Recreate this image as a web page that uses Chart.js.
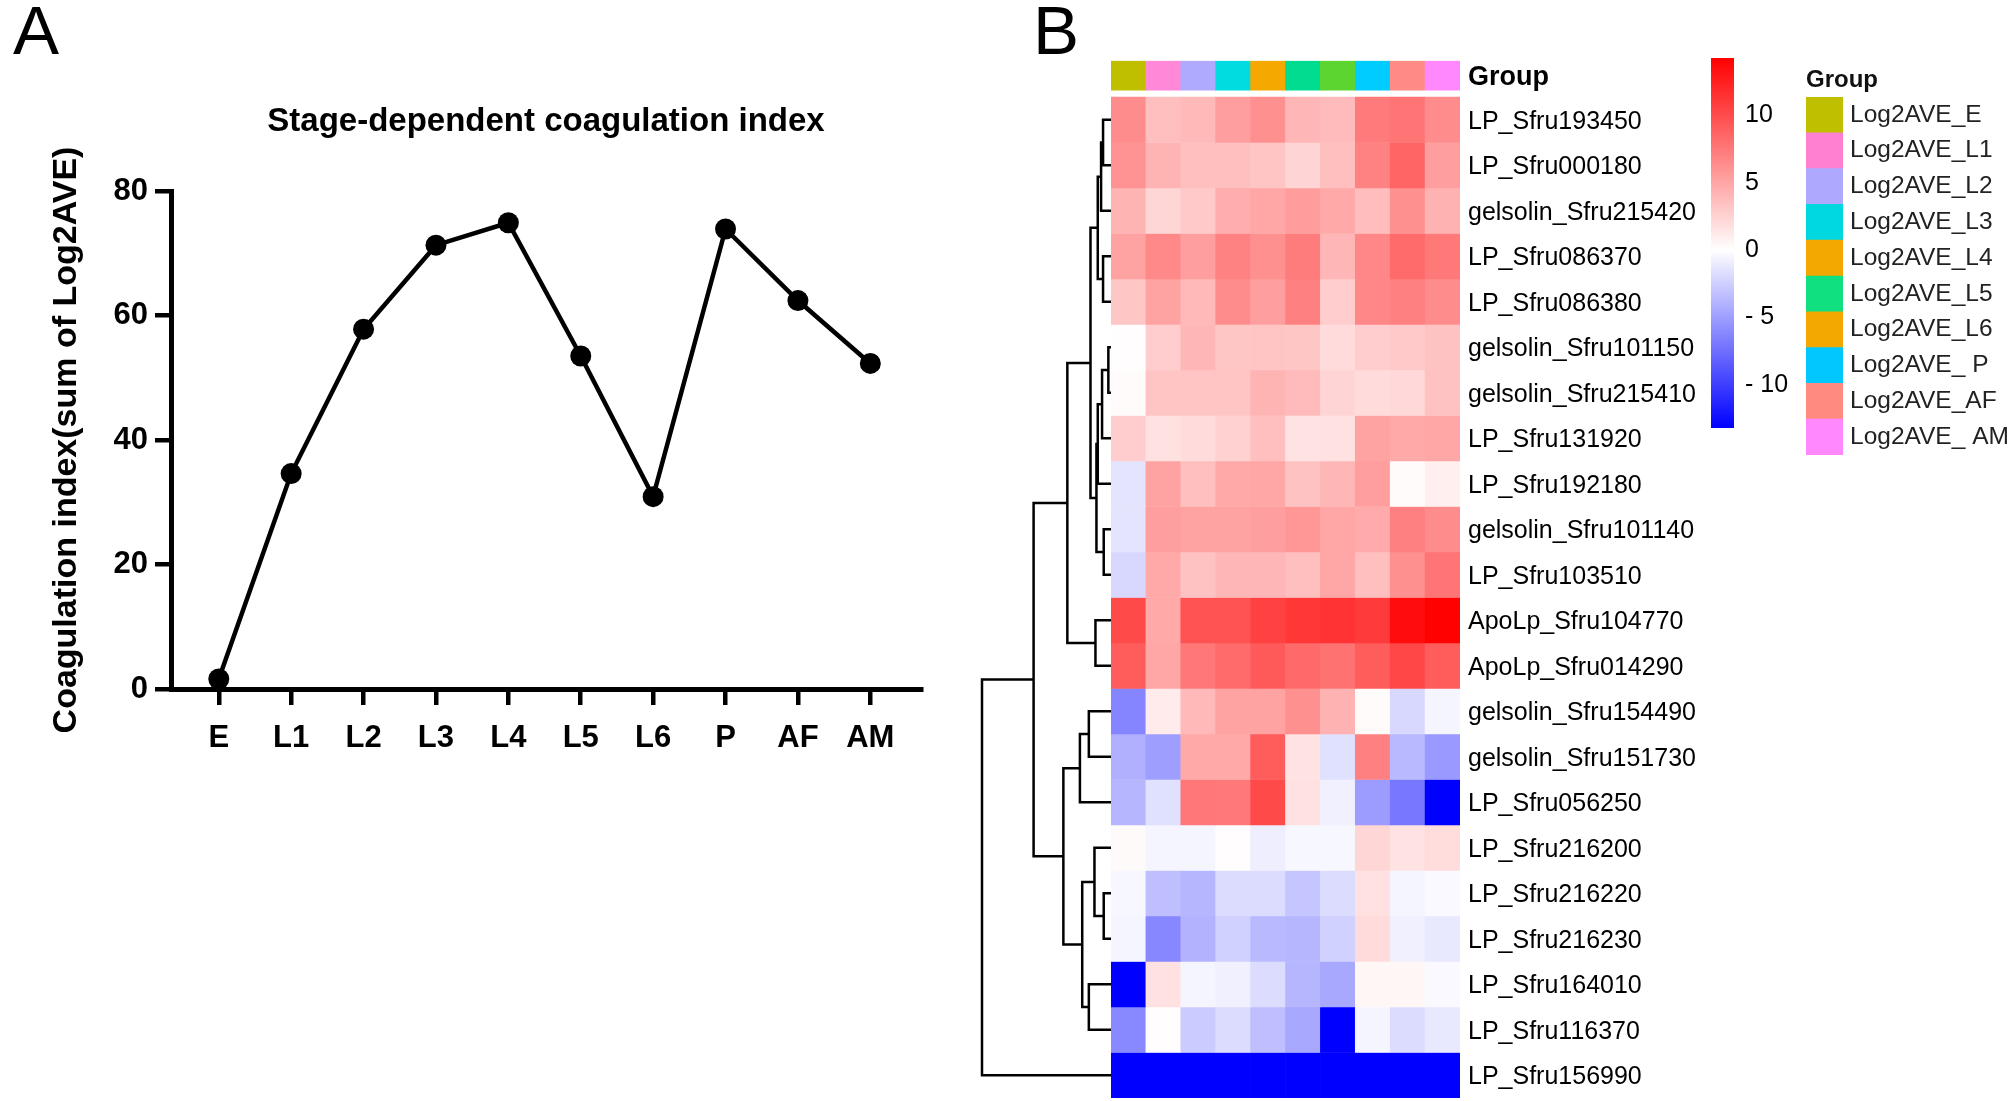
<!DOCTYPE html>
<html>
<head>
<meta charset="utf-8">
<script src="https://cdn.jsdelivr.net/npm/chart.js@4.4.1/dist/chart.umd.min.js"></script>
<style>
  html, body { margin: 0; padding: 0; background: #fff; width: 2008px; height: 1101px; overflow: hidden; }
  .box { position: absolute; }
  .panel { position: absolute; font-family: "Liberation Sans", Arial, sans-serif; font-size: 69px; line-height: 1; color: #000; }
</style>
</head>
<body>
<div class="panel" style="left:13px;top:-4px">A</div>
<div class="panel" style="left:1033px;top:-4px">B</div>

<div class="box" style="left:0;top:0"><canvas id="lineChart" width="960" height="800"></canvas></div>
<div class="box" style="left:975px;top:0"><canvas id="dendroChart" width="136" height="1130"></canvas></div>
<div class="box" style="left:1111px;top:0"><canvas id="heatChart" width="590" height="1130"></canvas></div>
<div class="box" style="left:1700px;top:0"><canvas id="scaleChart" width="110" height="480"></canvas></div>
<div class="box" style="left:1795px;top:0"><canvas id="groupChart" width="213" height="480"></canvas></div>

<script>
const FONT = '"Liberation Sans", Arial, sans-serif';

// panel A
const stages = ['E', 'L1', 'L2', 'L3', 'L4', 'L5', 'L6', 'P', 'AF', 'AM'];
const coagIndex = [1.6, 34.6, 57.8, 71.3, 74.9, 53.5, 30.9, 73.9, 62.4, 52.3];
const coagTicks = [0, 20, 40, 60, 80];

// panel B
const geneNames = [
  'LP_Sfru193450', 'LP_Sfru000180', 'gelsolin_Sfru215420', 'LP_Sfru086370', 'LP_Sfru086380',
  'gelsolin_Sfru101150', 'gelsolin_Sfru215410', 'LP_Sfru131920', 'LP_Sfru192180', 'gelsolin_Sfru101140',
  'LP_Sfru103510', 'ApoLp_Sfru104770', 'ApoLp_Sfru014290', 'gelsolin_Sfru154490', 'gelsolin_Sfru151730',
  'LP_Sfru056250', 'LP_Sfru216200', 'LP_Sfru216220', 'LP_Sfru216230', 'LP_Sfru164010',
  'LP_Sfru116370', 'LP_Sfru156990'
];
// Log2AVE per gene, columns E..AM
const heatValues = [
  [6.4, 3.6, 3.9, 5.4, 6.2, 4.1, 3.8, 7.4, 7.7, 6.4],
  [6.1, 4.2, 3.6, 3.6, 3.3, 2.4, 3.6, 7.0, 8.6, 5.4],
  [4.2, 2.3, 3.0, 4.6, 5.0, 5.5, 4.8, 3.7, 6.2, 4.3],
  [5.2, 6.6, 5.4, 7.0, 6.2, 7.3, 4.1, 6.7, 8.3, 7.5],
  [3.2, 5.2, 3.9, 6.4, 5.4, 7.1, 2.8, 6.7, 7.1, 6.4],
  [0.1, 2.8, 4.1, 3.2, 3.3, 3.2, 2.0, 2.8, 3.0, 3.4],
  [0.2, 3.3, 3.3, 3.3, 4.2, 3.8, 2.4, 2.0, 2.1, 3.4],
  [2.8, 1.7, 2.0, 2.5, 3.6, 1.6, 1.7, 5.2, 4.8, 5.0],
  [-1.4, 5.2, 3.6, 4.8, 5.0, 3.4, 4.1, 5.4, 0.2, 0.9],
  [-1.4, 5.4, 5.2, 5.2, 5.4, 5.8, 5.0, 4.7, 7.1, 6.4],
  [-2.0, 4.8, 3.4, 4.1, 4.1, 3.6, 5.0, 3.6, 6.2, 7.7],
  [10.1, 4.8, 9.6, 9.6, 10.6, 11.2, 11.4, 11.0, 13.6, 14.2],
  [9.1, 5.0, 7.6, 8.3, 9.2, 8.4, 7.9, 9.1, 10.3, 9.1],
  [-6.3, 1.1, 3.9, 5.2, 5.2, 6.2, 4.3, 0.2, -2.0, -0.5],
  [-4.1, -5.0, 4.8, 4.8, 9.1, 1.6, -1.6, 7.1, -3.6, -5.3],
  [-3.8, -1.6, 7.6, 7.5, 10.1, 1.7, -0.8, -5.1, -7.0, -13.2],
  [0.3, -0.5, -0.5, 0.1, -0.9, -0.4, -0.4, 2.3, 1.6, 1.9],
  [-0.4, -3.3, -3.8, -1.8, -1.8, -3.0, -1.8, 1.7, -0.5, -0.3],
  [-0.5, -6.2, -4.0, -2.4, -3.6, -3.8, -2.4, 2.0, -0.8, -1.2],
  [-13.2, 1.7, -0.5, -0.8, -1.8, -3.8, -4.5, 0.5, 0.5, -0.3],
  [-6.1, 0.1, -2.7, -1.8, -3.3, -4.5, -13.2, -0.5, -1.8, -1.2],
  [-13.2, -13.2, -13.2, -13.2, -13.2, -13.2, -13.2, -13.2, -13.2, -13.2]
];
// hclust style: negative = leaf (1-based row), positive = earlier merge; third = height
const dendroMerges = [
  [-1, -2, 24], [1, -3, 30], [-4, -5, 24], [2, 3, 40], [-6, -7, 8],
  [5, -8, 27], [6, -9, 40], [-10, -11, 22], [7, 8, 44], [4, 9, 62],
  [-12, -13, 47], [10, 11, 132], [-14, -15, 67], [13, -16, 94], [-18, -19, 22],
  [-17, 15, 50], [-20, -21, 67], [16, 17, 87], [14, 18, 144], [12, 19, 234],
  [20, -22, 390]
];
const groupBarColors = ['#bfbf00', '#ff88d8', '#b0aaff', '#00dce0', '#f5a800', '#00dd90', '#5cd530', '#00ccff', '#ff8c84', '#ff88ff'];
const legendLabels = ['Log2AVE_E', 'Log2AVE_L1', 'Log2AVE_L2', 'Log2AVE_L3', 'Log2AVE_L4', 'Log2AVE_L5', 'Log2AVE_L6', 'Log2AVE_ P', 'Log2AVE_AF', 'Log2AVE_ AM'];
const legendColors = ['#bfbf00', '#ff80d0', '#aea8ff', '#00d8e0', '#f2a800', '#10e080', '#f2a800', '#00c8ff', '#ff8a80', '#ff88ff'];
const colorTicks = [-10, -5, 0, 5, 10];
const colorMin = -13.2, colorMax = 14.25;

// row layout of panel B (in row units)
const rowTop = -0.8, rowBottom = geneNames.length;
const groupBarSpan = [-0.79, -0.15];
const labelShift = 0.05;

function valueColor(v) {
  if (v >= 0) {
    const g = Math.round(255 * (1 - Math.min(v / colorMax, 1)));
    return `rgb(255,${g},${g})`;
  }
  const b = Math.round(255 * (1 - Math.min(v / colorMin, 1)));
  return `rgb(${b},${b},255)`;
}

// ---- A: line chart
new Chart(document.getElementById('lineChart'), {
  type: 'line',
  data: {
    datasets: [{
      data: stages.map((s, i) => ({ x: i, y: coagIndex[i] })),
      borderColor: '#000',
      backgroundColor: '#000',
      borderWidth: 4.5,
      pointRadius: 10.5,
      pointBackgroundColor: '#000',
      pointBorderWidth: 0,
      tension: 0,
      clip: false
    }]
  },
  options: {
    responsive: false, animation: false, events: [],
    layout: { padding: { left: 0, right: 39, top: 0, bottom: 0 } },
    plugins: { legend: { display: false }, tooltip: { enabled: false } },
    scales: {
      x: {
        type: 'linear', min: -0.66, max: 9.7,
        afterBuildTicks: s => { s.ticks = stages.map((_, i) => ({ value: i })); },
        afterFit: s => { s.height = 111; },
        ticks: { callback: v => stages[v], font: { family: FONT, size: 31, weight: 'bold' }, color: '#000', padding: 15, autoSkip: false, maxRotation: 0 },
        grid: { display: true, drawOnChartArea: false, tickLength: 16, lineWidth: 4.5, color: '#000' },
        border: { display: true, width: 5, color: '#000' }
      },
      xTop: {
        type: 'linear', position: 'top',
        afterFit: s => { s.height = 191; },
        ticks: { display: false }, grid: { display: false }, border: { display: false },
        title: { display: true, text: 'Stage-dependent coagulation index', color: '#000', font: { family: FONT, size: 33, weight: 'bold' }, padding: { top: 102, bottom: 0 } }
      },
      y: {
        min: 0, max: 80,
        afterBuildTicks: s => { s.ticks = coagTicks.map(v => ({ value: v })); },
        afterFit: s => { s.width = 171; },
        ticks: { font: { family: FONT, size: 31, weight: 'bold' }, color: '#000', padding: 7 },
        grid: { display: true, drawOnChartArea: false, tickLength: 16, lineWidth: 4.5, color: '#000' },
        border: { display: true, width: 5, color: '#000' },
        title: { display: true, text: 'Coagulation index(sum of Log2AVE)', color: '#000', font: { family: FONT, size: 34, weight: 'bold' }, padding: { top: 46, bottom: 0 } }
      }
    }
  }
});

// ---- B: dendrogram
const leafPos = geneNames.map((g, i) => i + 0.5);
const nodePos = [], nodeHeight = [];
function nodeInfo(ref) {
  if (ref < 0) return { y: leafPos[-ref - 1], h: 0 };
  return { y: nodePos[ref - 1], h: nodeHeight[ref - 1] };
}
const dendroSets = dendroMerges.map(([a, b, h]) => {
  const na = nodeInfo(a), nb = nodeInfo(b);
  nodePos.push((na.y + nb.y) / 2);
  nodeHeight.push(h);
  return {
    data: [{ x: na.h, y: na.y }, { x: h, y: na.y }, { x: h, y: nb.y }, { x: nb.h, y: nb.y }],
    showLine: true, borderColor: '#000', borderWidth: 2.5, pointRadius: 0, tension: 0, clip: false
  };
});
new Chart(document.getElementById('dendroChart'), {
  type: 'scatter',
  data: { datasets: dendroSets },
  options: {
    responsive: false, animation: false, events: [],
    layout: { padding: { left: 7, right: 0, top: 60.6, bottom: 32 } },
    plugins: { legend: { display: false }, tooltip: { enabled: false } },
    scales: {
      x: { type: 'linear', min: 0, max: 390, reverse: true, display: false },
      y: { type: 'linear', min: rowTop, max: rowBottom, reverse: true, display: false }
    }
  }
});

// ---- B: heatmap (floating bars, one dataset per gene)
const heatSets = geneNames.map((g, r) => ({
  label: g,
  data: stages.map(() => [r, r + 1]),
  backgroundColor: heatValues[r].map(valueColor),
  borderWidth: 0, barPercentage: 1, categoryPercentage: 1, grouped: false
}));
heatSets.push({
  label: 'Group',
  data: stages.map(() => groupBarSpan),
  backgroundColor: groupBarColors,
  borderWidth: 0, barPercentage: 1, categoryPercentage: 1, grouped: false
});
new Chart(document.getElementById('heatChart'), {
  type: 'bar',
  data: { labels: stages, datasets: heatSets },
  options: {
    responsive: false, animation: false, events: [],
    layout: { padding: { left: 0, right: 0, top: 60.6, bottom: 32 } },
    plugins: { legend: { display: false }, tooltip: { enabled: false } },
    scales: {
      x: { display: false },
      y: {
        type: 'linear', position: 'right', min: rowTop, max: rowBottom, reverse: true,
        afterBuildTicks: s => {
          const groupMid = (groupBarSpan[0] + groupBarSpan[1]) / 2;
          s.ticks = [{ value: groupMid + labelShift }].concat(leafPos.map(v => ({ value: v + labelShift })));
        },
        afterFit: s => { s.width = 241; },
        ticks: {
          autoSkip: false, padding: 8, color: '#000',
          callback: (v, i) => i === 0 ? 'Group' : geneNames[i - 1],
          font: ctx => ctx.index === 0 ? { family: FONT, size: 27, weight: 'bold' } : { family: FONT, size: 25 }
        },
        grid: { display: false, drawTicks: false },
        border: { display: false }
      }
    }
  }
});

// ---- B: colour scale
new Chart(document.getElementById('scaleChart'), {
  type: 'bar',
  data: {
    labels: ['scale'],
    datasets: [{
      data: [[colorMin, colorMax]],
      backgroundColor: ctx => {
        const area = ctx.chart.chartArea;
        if (!area) return '#fff';
        const grad = ctx.chart.ctx.createLinearGradient(0, area.bottom, 0, area.top);
        grad.addColorStop(0, valueColor(colorMin));
        grad.addColorStop(-colorMin / (colorMax - colorMin), '#ffffff');
        grad.addColorStop(1, valueColor(colorMax));
        return grad;
      },
      borderWidth: 0, barPercentage: 1, categoryPercentage: 1
    }]
  },
  options: {
    responsive: false, animation: false, events: [],
    layout: { padding: { left: 11, right: 0, top: 58, bottom: 52 } },
    plugins: { legend: { display: false }, tooltip: { enabled: false } },
    scales: {
      x: { display: false },
      y: {
        position: 'right', min: colorMin, max: colorMax,
        afterBuildTicks: s => { s.ticks = colorTicks.map(v => ({ value: v })); },
        afterFit: s => { s.width = 76; },
        ticks: { padding: 11, color: '#000', font: { family: FONT, size: 25 }, callback: v => v < 0 ? '- ' + Math.abs(v) : String(v) },
        grid: { display: false, drawTicks: false },
        border: { display: false }
      }
    }
  }
});

// ---- B: group legend
new Chart(document.getElementById('groupChart'), {
  type: 'bar',
  data: {
    labels: legendLabels,
    datasets: [{
      data: legendLabels.map(() => 1),
      backgroundColor: legendColors,
      borderWidth: 0, barPercentage: 1, categoryPercentage: 1
    }]
  },
  options: {
    indexAxis: 'y',
    responsive: false, animation: false, events: [],
    layout: { padding: { left: 11, right: 0, top: 0, bottom: 25 } },
    plugins: {
      legend: { display: false }, tooltip: { enabled: false },
      title: { display: true, text: 'Group', align: 'start', color: '#111', font: { family: FONT, size: 24, weight: 'bold' }, padding: { top: 65.5, bottom: 2.7 } }
    },
    scales: {
      x: { min: 0, max: 1, display: false },
      y: {
        position: 'right',
        afterFit: s => { s.width = 165; },
        ticks: { padding: 7, color: '#222', font: { family: FONT, size: 24.5 } },
        grid: { display: false, drawTicks: false },
        border: { display: false }
      }
    }
  }
});
</script>
</body>
</html>
